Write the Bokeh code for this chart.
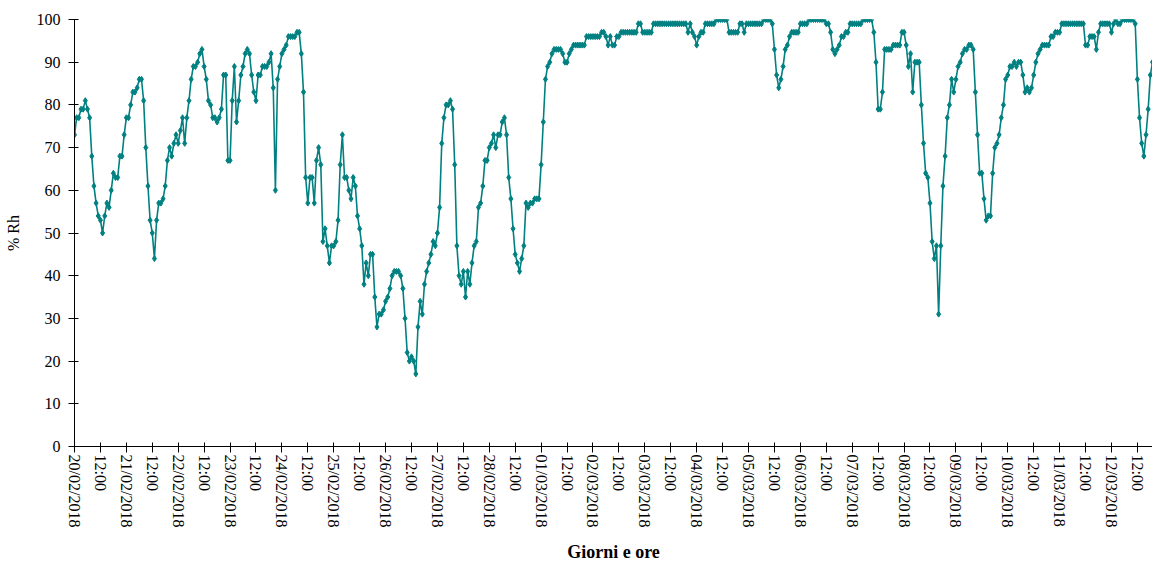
from bokeh.plotting import figure
from bokeh.models import FixedTicker, Range1d
from bokeh.embed import file_html
from bokeh.resources import INLINE

# Hourly relative humidity (% Rh), one list per day, starting 20/02/2018 00:00
d20_02 = [73,77,77,79,79,81,79,77,68,61,57,54,53,50,54,57,56,60,64,63,63,68,68,73]
d21_02 = [77,77,80,83,83,84,86,86,81,70,61,53,50,44,53,57,57,58,61,67,70,68,71,73]
d22_02 = [71,74,77,71,77,81,86,89,89,90,92,93,89,86,81,80,77,77,76,77,79,87,87,67]
d23_02 = [67,81,89,76,81,87,89,92,93,92,87,83,81,87,87,89,89,89,90,92,84,60,86,89]
d24_02 = [92,93,94,96,96,96,96,97,97,92,83,63,57,63,63,57,67,70,66,48,51,47,43,47]
d25_02 = [47,48,53,66,73,63,63,60,58,63,61,54,51,47,38,43,40,45,45,35,28,31,31,32]
d26_02 = [34,35,37,40,41,41,41,40,37,30,22,20,21,20,17,28,34,31,38,41,43,45,48,47]
d27_02 = [50,56,71,77,80,80,81,79,66,47,40,38,41,35,41,38,43,47,48,56,57,61,67,67]
d28_02 = [70,71,73,70,73,73,76,77,73,63,58,51,45,43,41,44,47,57,56,57,57,58,58,58]
d01_03 = [66,76,86,89,90,92,93,93,93,93,92,90,90,92,93,94,94,94,94,94,94,96,96,96]
d02_03 = [96,96,96,96,97,97,96,94,96,94,94,96,96,97,97,97,97,97,97,97,97,99,99,97]
d03_03 = [97,97,97,97,99,99,99,99,99,99,99,99,99,99,99,99,99,99,99,99,97,99,97,96]
d04_03 = [94,96,97,97,99,99,99,99,99,100,100,100,100,100,100,97,97,97,97,97,99,99,97,99]
d05_03 = [99,99,99,99,99,99,99,100,100,100,100,99,93,87,84,86,89,93,94,96,97,97,97,97]
d06_03 = [99,99,99,99,100,100,100,100,100,100,100,100,99,99,97,93,92,93,94,96,96,97,97,99]
d07_03 = [99,99,99,99,99,100,100,100,100,100,97,90,79,79,83,93,93,93,93,94,94,94,94,97]
d08_03 = [97,94,89,92,83,90,90,90,80,71,64,63,57,48,44,47,31,47,61,68,77,80,86,83]
d09_03 = [86,89,90,92,93,93,94,94,93,83,73,64,64,58,53,54,54,64,70,71,73,77,80,86]
d10_03 = [87,89,89,90,89,90,90,87,83,84,83,84,87,90,92,93,94,94,94,94,96,96,97,97]
d11_03 = [97,99,99,99,99,99,99,99,99,99,99,99,94,94,96,96,96,93,97,99,99,99,99,99]
d12_03 = [97,99,100,99,99,100,100,100,100,100,100,99,86,77,71,68,73,79,87,90]

days = ["20/02/2018", "21/02/2018", "22/02/2018", "23/02/2018", "24/02/2018",
        "25/02/2018", "26/02/2018", "27/02/2018", "28/02/2018", "01/03/2018",
        "02/03/2018", "03/03/2018", "04/03/2018", "05/03/2018", "06/03/2018",
        "07/03/2018", "08/03/2018", "09/03/2018", "10/03/2018", "11/03/2018",
        "12/03/2018"]
noon_label = "12:00"
y_ticks = [0, 10, 20, 30, 40, 50, 60, 70, 80, 90, 100]

rh = (d20_02 + d21_02 + d22_02 + d23_02 + d24_02 + d25_02 + d26_02 + d27_02 +
      d28_02 + d01_03 + d02_03 + d03_03 + d04_03 + d05_03 + d06_03 + d07_03 +
      d08_03 + d09_03 + d10_03 + d11_03 + d12_03)
hours = list(range(len(rh)))

ticks = []
overrides = {}
for i, d in enumerate(days):
    ticks.append(i * 24)
    overrides[i * 24] = d
    ticks.append(i * 24 + 12)
    overrides[i * 24 + 12] = noon_label

p = figure(width=1152, height=565, output_backend="svg", toolbar_location=None,
           x_range=Range1d(0, len(rh) - 1), y_range=Range1d(0, 100),
           min_border_left=74, min_border_top=19, min_border_right=0,
           min_border_bottom=119)

teal = "#008080"
p.line(hours, rh, line_color=teal, line_width=1.6)
p.scatter(hours, rh, marker="diamond", size=6, fill_color=teal, line_color=teal)

p.xgrid.visible = False
p.ygrid.visible = False
p.outline_line_color = None
p.background_fill_color = "white"
p.border_fill_color = "white"

for ax in (p.xaxis[0], p.yaxis[0]):
    ax.axis_line_color = "black"
    ax.axis_line_width = 1
    ax.major_tick_line_color = "black"
    ax.major_tick_in = 4
    ax.major_tick_out = 6
    ax.minor_tick_line_color = None
    ax.major_label_text_font = "Liberation Serif"
    ax.major_label_text_font_size = "16px"
    ax.major_label_text_color = "black"
    ax.axis_label_text_font = "Liberation Serif"
    ax.axis_label_text_color = "black"

p.xaxis.ticker = FixedTicker(ticks=ticks)
p.xaxis.major_label_overrides = overrides
p.xaxis.major_label_orientation = "vertical"
p.xaxis.major_label_standoff = 2
p.xaxis.axis_label = "Giorni e ore"
p.xaxis.axis_label_text_font_style = "bold"
p.xaxis.axis_label_text_font_size = "18px"
p.xaxis.axis_label_standoff = 12

p.yaxis.ticker = FixedTicker(ticks=y_ticks)
p.yaxis.major_label_standoff = 8
p.yaxis.axis_label = "% Rh"
p.yaxis.axis_label_text_font_style = "normal"
p.yaxis.axis_label_text_font_size = "16px"
p.yaxis.axis_label_standoff = 12

open("out.html", "w").write(file_html(p, INLINE))
